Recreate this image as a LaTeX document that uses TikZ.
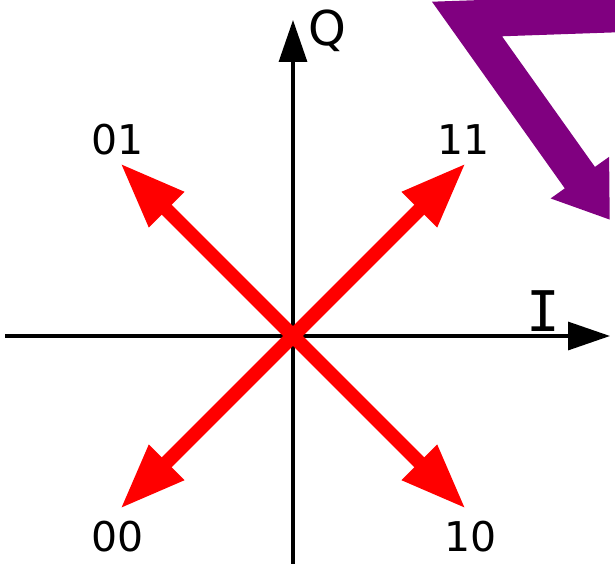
\documentclass[tikz,border=0pt]{standalone}
\usepackage{fontspec}
\setmainfont{DejaVu Sans}
\newfontfamily\monofnt{DejaVu Sans Mono}
\usetikzlibrary{arrows.meta}
\definecolor{mypurple}{RGB}{128,0,128}
\begin{document}
\begin{tikzpicture}[x=1pt,y=-1pt,
  axis/.style={line width=3.2pt,-{Triangle[length=42pt,width=28pt]}},
  redarrow/.style={red,line width=14pt,-{Triangle[length=66pt,width=46pt]}},
  lbl/.style={anchor=base,inner sep=0pt,font=\fontsize{41}{48}\selectfont}]
\useasboundingbox (0,0) rectangle (615,564);
\clip (0,0) rectangle (615,564);
% coordinates
\coordinate (O) at (293,336);
\coordinate (xl) at (5,336);
\coordinate (xr) at (610,336);
\coordinate (yb) at (293,566);
\coordinate (yt) at (293,20);
\coordinate (p01) at (120,163);
\coordinate (p11) at (466,163);
\coordinate (p00) at (120,509);
\coordinate (p10) at (466,509);
% axes
\draw[axis] (xl) -- (xr);
\draw[axis] (yb) -- (yt);
% red arrows
\draw[redarrow] (O) -- (p01);
\draw[redarrow] (O) -- (p11);
\draw[redarrow] (O) -- (p00);
\draw[redarrow] (O) -- (p10);
% labels
\node[lbl] (l01) at (118,155) {01};
\node[lbl] (l11) at (464,155) {11};
\node[lbl] (l00) at (118,551) {00};
\node[lbl] (l10) at (471,551) {10};
\node[lbl,font=\fontsize{48}{56}\selectfont] (lQ) at (327,46) {Q};
\node[lbl,font=\monofnt\fontsize{56}{64}\selectfont] (lI) at (543,331) {I};
% purple arrow
\coordinate (pa) at (640,13);
\coordinate (pb) at (467,19);
\coordinate (pc) at (610,220);
\draw[mypurple,line width=37pt,miter limit=10,-{Triangle[length=52pt,width=68pt]}] (pa) -- (pb) -- (pc);
\end{tikzpicture}
\end{document}
